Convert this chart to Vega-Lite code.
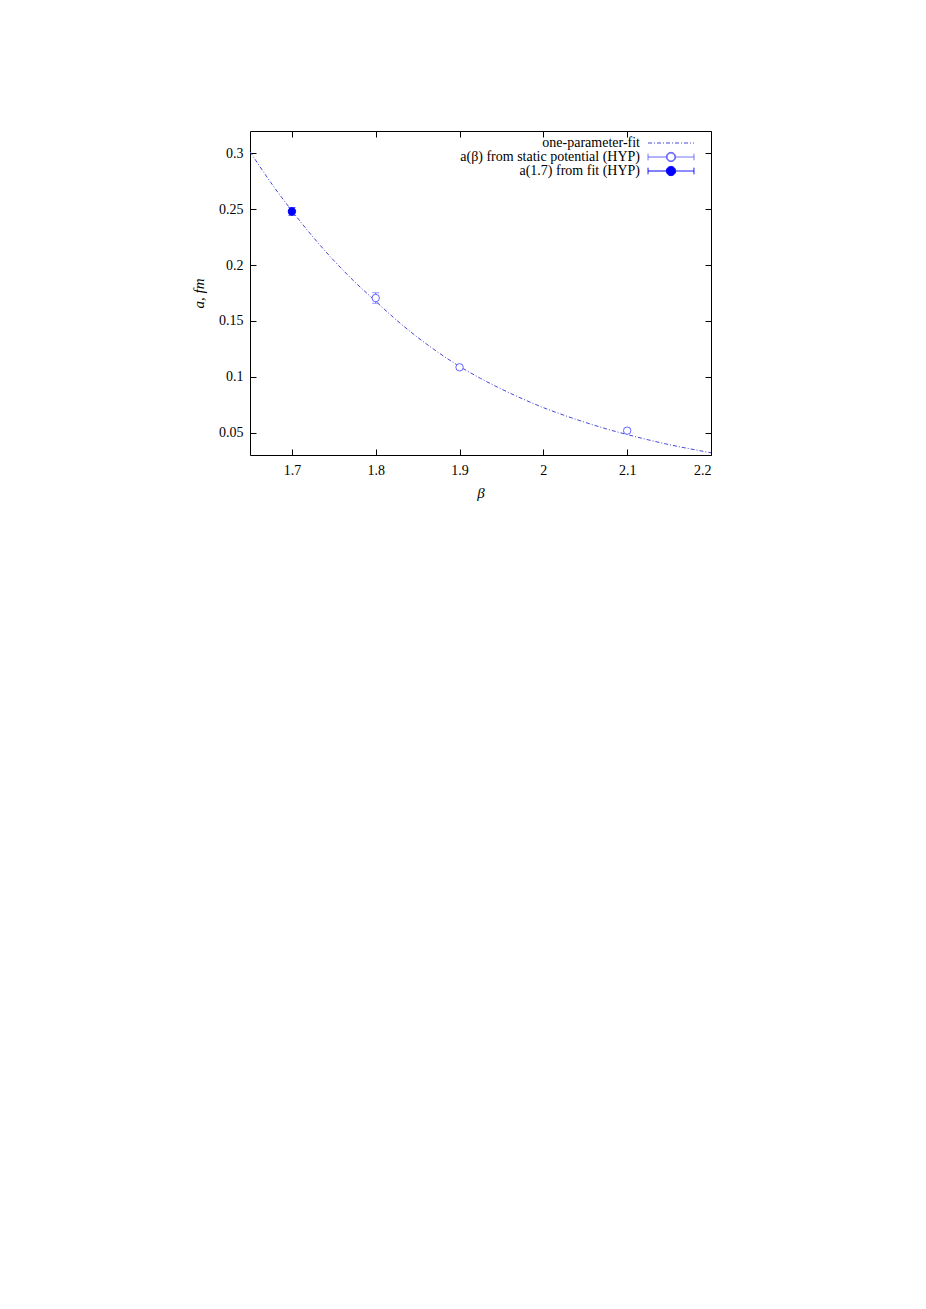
{
  "$schema": "https://vega.github.io/schema/vega-lite/v6.json",
  "autosize": {"type": "none"},
  "width": 461,
  "height": 324,
  "padding": {"left": 250, "top": 131, "right": 215, "bottom": 854},
  "background": "white",
  "config": {
    "view": {"stroke": "#000000", "strokeWidth": 1},
    "font": "Liberation Serif",
    "axis": {
      "domain": false,
      "grid": false,
      "tickColor": "#000000",
      "tickSize": -6,
      "labelColor": "#000000",
      "labelFont": "Liberation Serif",
      "labelFontSize": 14,
      "titleFont": "Liberation Serif",
      "titleFontSize": 15,
      "titleFontWeight": "normal",
      "titleFontStyle": "italic",
      "titleColor": "#000000"
    }
  },
  "datasets": {
    "fit": [
      {"beta": 1.65, "a": 0.3015, "series": "one-parameter-fit"},
      {"beta": 1.675, "a": 0.2737, "series": "one-parameter-fit"},
      {"beta": 1.7, "a": 0.2486, "series": "one-parameter-fit"},
      {"beta": 1.725, "a": 0.2253, "series": "one-parameter-fit"},
      {"beta": 1.75, "a": 0.2041, "series": "one-parameter-fit"},
      {"beta": 1.775, "a": 0.1849, "series": "one-parameter-fit"},
      {"beta": 1.8, "a": 0.1676, "series": "one-parameter-fit"},
      {"beta": 1.825, "a": 0.1506, "series": "one-parameter-fit"},
      {"beta": 1.85, "a": 0.1353, "series": "one-parameter-fit"},
      {"beta": 1.875, "a": 0.1216, "series": "one-parameter-fit"},
      {"beta": 1.9, "a": 0.1093, "series": "one-parameter-fit"},
      {"beta": 1.925, "a": 0.0986, "series": "one-parameter-fit"},
      {"beta": 1.95, "a": 0.089, "series": "one-parameter-fit"},
      {"beta": 1.975, "a": 0.0803, "series": "one-parameter-fit"},
      {"beta": 2.0, "a": 0.0724, "series": "one-parameter-fit"},
      {"beta": 2.025, "a": 0.0655, "series": "one-parameter-fit"},
      {"beta": 2.05, "a": 0.0592, "series": "one-parameter-fit"},
      {"beta": 2.075, "a": 0.0534, "series": "one-parameter-fit"},
      {"beta": 2.1, "a": 0.0483, "series": "one-parameter-fit"},
      {"beta": 2.125, "a": 0.0436, "series": "one-parameter-fit"},
      {"beta": 2.15, "a": 0.0393, "series": "one-parameter-fit"},
      {"beta": 2.175, "a": 0.0355, "series": "one-parameter-fit"},
      {"beta": 2.2, "a": 0.032, "series": "one-parameter-fit"}
    ],
    "pts": [
      {"beta": 1.7, "a": 0.248, "lo": 0.2445, "hi": 0.2515, "series": "a(1.7) from fit (HYP)"},
      {"beta": 1.8, "a": 0.1705, "lo": 0.1658, "hi": 0.1752, "series": "a(β) from static potential (HYP)"},
      {"beta": 1.9, "a": 0.1085, "lo": 0.1067, "hi": 0.1103, "series": "a(β) from static potential (HYP)"},
      {"beta": 2.1, "a": 0.0518, "lo": 0.05, "hi": 0.0536, "series": "a(β) from static potential (HYP)"}
    ]
  },
  "resolve": {"axis": {"x": "independent", "y": "independent"}},
  "layer": [
    {
      "data": {"name": "fit"},
      "mark": {"type": "line", "strokeWidth": 1, "strokeDash": [4, 2, 1, 2], "interpolate": "monotone"},
      "encoding": {
        "x": {"field": "beta", "type": "quantitative",
          "scale": {"domain": [1.65, 2.2], "nice": false, "zero": false},
          "axis": {"orient": "bottom", "values": [1.7, 1.8, 1.9, 2.0, 2.1, 2.2], "labelExpr": "'' + datum.value", "labelPadding": 14, "title": "β", "titlePadding": 8}},
        "y": {"field": "a", "type": "quantitative",
          "scale": {"domain": [0.03, 0.32], "nice": false, "zero": false},
          "axis": {"orient": "left", "values": [0.05, 0.1, 0.15, 0.2, 0.25, 0.3], "labelExpr": "'' + datum.value", "labelPadding": 13, "title": "a, fm", "titlePadding": 12}},
        "color": {"field": "series", "type": "nominal",
          "scale": {"domain": ["one-parameter-fit", "a(β) from static potential (HYP)", "a(1.7) from fit (HYP)"], "range": ["#4848d8", "#6464ff", "#0000ff"]},
          "legend": {
            "title": null,
            "orient": "none",
            "legendX": 414,
            "legendY": 5,
            "padding": 0,
            "rowPadding": -3.5,
            "labelFont": "Liberation Serif",
            "labelFontSize": 14,
            "labelColor": "#000000",
            "labelAlign": "right",
            "labelOffset": -38,
            "labelLimit": 0,
            "symbolSize": 144,
            "encode": {
              "symbols": {
                "update": {
                  "shape": {"signal": "datum.value == 'one-parameter-fit' ? 'M-3.83,0H3.83' : datum.value == 'a(1.7) from fit (HYP)' ? 'M-3.83,0H-0.77M0.77,0H3.83M-3.83,-0.55V0.55M3.83,-0.55V0.55M0.77,0A0.77,0.77 0 1,1 -0.77,0A0.77,0.77 0 1,1 0.77,0Z' : 'M-3.83,0H-0.77M0.77,0H3.83M-3.83,-0.55V0.55M3.83,-0.55V0.55M0.77,0A0.77,0.77 0 1,1 -0.77,0A0.77,0.77 0 1,1 0.77,0ZM0.66,0A0.66,0.66 0 1,0 -0.66,0A0.66,0.66 0 1,0 0.66,0Z'"},
                  "strokeWidth": {"value": 1},
                  "strokeDash": {"signal": "datum.value == 'one-parameter-fit' ? [4, 2, 1, 2] : [1, 0]"},
                  "fillOpacity": {"value": 1},
                  "opacity": {"value": 1}
                }
              }
            }
          }}
      }
    },
    {
      "data": {"name": "pts"},
      "mark": {"type": "errorbar", "ticks": {"size": 7}, "thickness": 1},
      "encoding": {
        "x": {"field": "beta", "type": "quantitative",
          "axis": {"orient": "top", "values": [1.7, 1.8, 1.9, 2.0, 2.1, 2.2], "labels": false, "title": null}},
        "y": {"field": "lo", "type": "quantitative",
          "axis": {"orient": "right", "values": [0.05, 0.1, 0.15, 0.2, 0.25, 0.3], "labels": false, "title": null}},
        "y2": {"field": "hi"},
        "color": {"field": "series", "type": "nominal"}
      }
    },
    {
      "data": {"name": "pts"},
      "mark": {"type": "point", "filled": false, "strokeWidth": 1, "opacity": 1, "size": 55},
      "encoding": {
        "x": {"field": "beta", "type": "quantitative", "axis": null},
        "y": {"field": "a", "type": "quantitative", "axis": null},
        "color": {"field": "series", "type": "nominal"},
        "fill": {"field": "series", "type": "nominal", "legend": null,
          "scale": {"domain": ["a(β) from static potential (HYP)", "a(1.7) from fit (HYP)"], "range": ["#ffffff", "#0000ff"]}}
      }
    }
  ]
}
